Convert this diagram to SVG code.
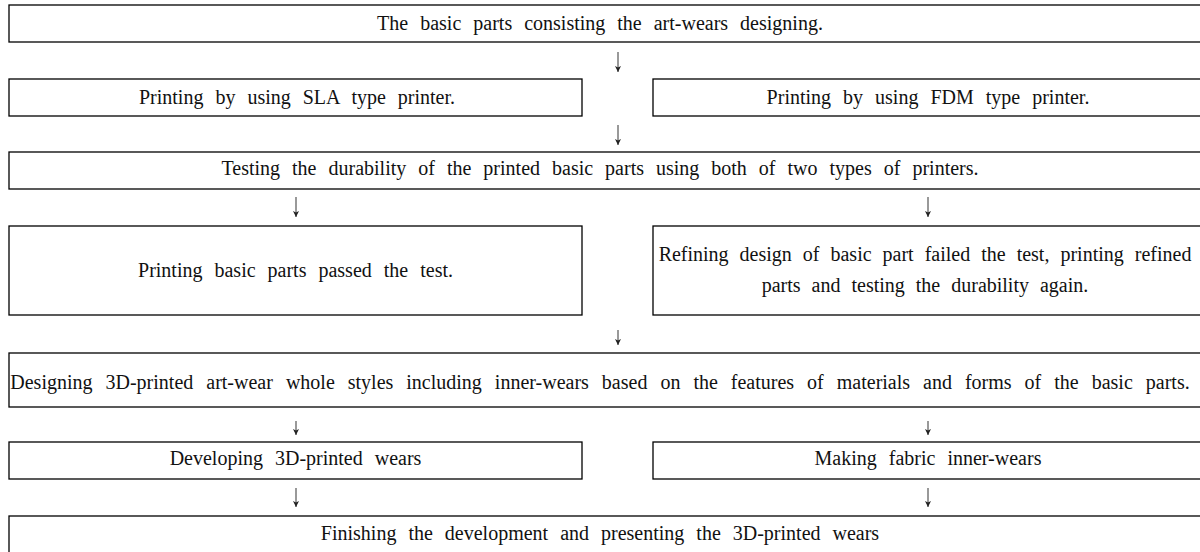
<svg xmlns="http://www.w3.org/2000/svg" width="1200" height="552" viewBox="0 0 1200 552">
<style>
.box{fill:#fff;stroke:#000;stroke-width:1.3}
.t{font-family:"Liberation Serif","Times New Roman",serif;font-size:20px;fill:#111;text-anchor:middle;word-spacing:7px}
.c{stroke:#555;stroke-width:1.2;fill:none;marker-end:url(#ah)}
</style>
<defs>
<marker id="ah" markerUnits="userSpaceOnUse" markerWidth="7" markerHeight="7" refX="6" refY="3.5" orient="auto" viewBox="0 0 7 7">
<path d="M0,0.5 L6,3.5 L0,6.5 L1.5,3.5 z" fill="#222"/>
</marker>
</defs>
<rect width="1200" height="552" fill="#fff"/>
<g id="n1"><rect class="box" x="9" y="5" width="1195" height="37"/><text class="t" x="600" y="30">The basic parts consisting the art-wears designing.</text></g>
<g id="n2"><rect class="box" x="9" y="79" width="573" height="37"/><text class="t" x="297" y="104">Printing by using SLA type printer.</text></g>
<g id="n3"><rect class="box" x="653" y="79" width="551" height="37"/><text class="t" x="928" y="104">Printing by using FDM type printer.</text></g>
<g id="n4"><rect class="box" x="9" y="152" width="1195" height="37"/><text class="t" x="600" y="175">Testing the durability of the printed basic parts using both of two types of printers.</text></g>
<g id="n5"><rect class="box" x="9" y="226" width="573" height="89"/><text class="t" x="295.5" y="277">Printing basic parts passed the test.</text></g>
<g id="n6"><rect class="box" x="653" y="226" width="551" height="89"/><text class="t" x="925" y="261" style="word-spacing:6px">Refining design of basic part failed the test, printing refined</text><text class="t" x="925" y="292" style="word-spacing:6px">parts and testing the durability again.</text></g>
<g id="n7"><rect class="box" x="9" y="353" width="1195" height="54"/><text class="t" x="600" y="389" style="word-spacing:8px">Designing 3D-printed art-wear whole styles including inner-wears based on the features of materials and forms of the basic parts.</text></g>
<g id="n8"><rect class="box" x="9" y="442" width="573" height="37"/><text class="t" x="295.5" y="465">Developing 3D-printed wears</text></g>
<g id="n9"><rect class="box" x="653" y="442" width="551" height="37"/><text class="t" x="928" y="465">Making fabric inner-wears</text></g>
<g id="n10"><rect class="box" x="9" y="516" width="1195" height="40"/><text class="t" x="600" y="540">Finishing the development and presenting the 3D-printed wears</text></g>
<g id="connectors">
<line class="c" x1="618" y1="52" x2="618" y2="72"/>
<line class="c" x1="618" y1="125" x2="618" y2="145"/>
<line class="c" x1="296" y1="197" x2="296" y2="217"/>
<line class="c" x1="928" y1="197" x2="928" y2="217"/>
<line class="c" x1="618" y1="330" x2="618" y2="345"/>
<line class="c" x1="296" y1="421" x2="296" y2="435"/>
<line class="c" x1="928" y1="421" x2="928" y2="435"/>
<line class="c" x1="296" y1="488" x2="296" y2="507"/>
<line class="c" x1="928" y1="488" x2="928" y2="507"/>
</g>
</svg>
